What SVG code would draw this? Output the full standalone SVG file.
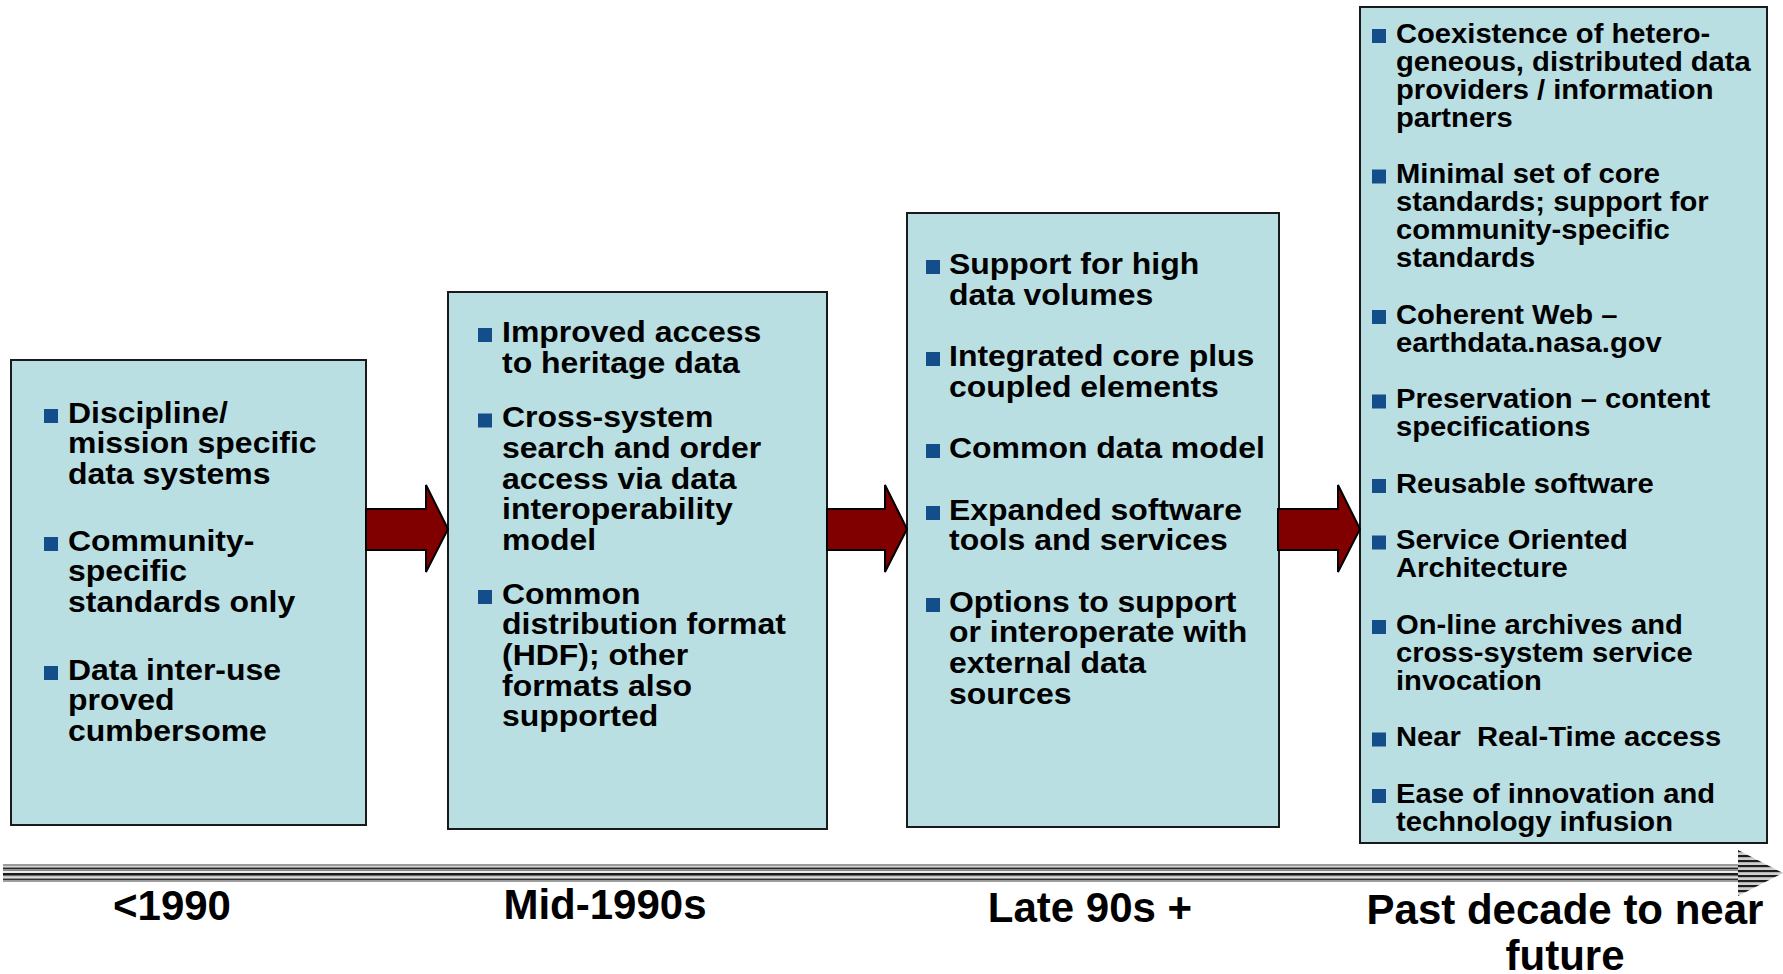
<svg xmlns="http://www.w3.org/2000/svg" width="1783" height="974" viewBox="0 0 1783 974">
<defs>
<style>
.box{fill:#BADFE3;stroke:#1a1a1a;stroke-width:2}
.t{font-family:"Liberation Sans",Arial,Helvetica,sans-serif;font-weight:bold;fill:#000}
.b1{font-size:30px}
.b4{font-size:27px}
.bul{fill:#134E8A}
.arr{fill:#800000;stroke:#000;stroke-width:2;stroke-linejoin:miter}
.lbl{font-family:"Liberation Sans",Arial,Helvetica,sans-serif;font-weight:bold;font-size:42px;text-anchor:middle;fill:#000}
</style>
<pattern id="hs" patternUnits="userSpaceOnUse" x="0" y="850" width="10" height="5">
<rect width="10" height="2.5" fill="#1e1e1e"/>
<rect y="2.5" width="10" height="2.5" fill="#cfcfcf"/>
</pattern>
</defs>
<rect width="1783" height="974" fill="#fff"/>

<g id="n1">
<rect class="box" x="11" y="360" width="355" height="465"/>
<rect class="bul" x="44" y="409" width="14" height="14"/>
<rect class="bul" x="44" y="537" width="14" height="14"/>
<rect class="bul" x="44" y="666" width="14" height="14"/>
<g transform="translate(68,0) scale(1.065,1)">
<text class="t b1"><tspan x="0" y="423">Discipline/</tspan><tspan x="0" y="453.5">mission specific</tspan><tspan x="0" y="484">data systems</tspan><tspan x="0" y="551">Community-</tspan><tspan x="0" y="581.5">specific</tspan><tspan x="0" y="612">standards only</tspan><tspan x="0" y="680">Data inter-use</tspan><tspan x="0" y="710.5">proved</tspan><tspan x="0" y="741">cumbersome</tspan></text>
</g>
</g>

<g id="n2">
<rect class="box" x="448" y="292" width="379" height="537"/>
<rect class="bul" x="478" y="328" width="14" height="14"/>
<rect class="bul" x="478" y="413.5" width="14" height="14"/>
<rect class="bul" x="478" y="590" width="14" height="14"/>
<g transform="translate(502,0) scale(1.065,1)">
<text class="t b1"><tspan x="0" y="342">Improved access</tspan><tspan x="0" y="373">to heritage data</tspan><tspan x="0" y="427.5">Cross-system</tspan><tspan x="0" y="458">search and order</tspan><tspan x="0" y="489">access via data</tspan><tspan x="0" y="519.5">interoperability</tspan><tspan x="0" y="550">model</tspan><tspan x="0" y="604">Common</tspan><tspan x="0" y="634.5">distribution format</tspan><tspan x="0" y="665">(HDF); other</tspan><tspan x="0" y="696">formats also</tspan><tspan x="0" y="726.5">supported</tspan></text>
</g>
</g>

<g id="n3">
<rect class="box" x="907" y="213" width="372" height="614"/>
<rect class="bul" x="926" y="260" width="14" height="14"/>
<rect class="bul" x="926" y="352" width="14" height="14"/>
<rect class="bul" x="926" y="444" width="14" height="14"/>
<rect class="bul" x="926" y="506" width="14" height="14"/>
<rect class="bul" x="926" y="598" width="14" height="14"/>
<g transform="translate(949,0) scale(1.065,1)">
<text class="t b1"><tspan x="0" y="274">Support for high</tspan><tspan x="0" y="305">data volumes</tspan><tspan x="0" y="366">Integrated core plus</tspan><tspan x="0" y="397">coupled elements</tspan><tspan x="0" y="458">Common data model</tspan><tspan x="0" y="520">Expanded software</tspan><tspan x="0" y="550">tools and services</tspan><tspan x="0" y="612">Options to support</tspan><tspan x="0" y="642.5">or interoperate with</tspan><tspan x="0" y="673">external data</tspan><tspan x="0" y="704">sources</tspan></text>
</g>
</g>

<g id="n4">
<rect class="box" x="1360" y="7" width="407" height="836"/>
<rect class="bul" x="1372" y="29" width="14" height="14"/>
<rect class="bul" x="1372" y="169.5" width="14" height="14"/>
<rect class="bul" x="1372" y="310" width="14" height="14"/>
<rect class="bul" x="1372" y="394.5" width="14" height="14"/>
<rect class="bul" x="1372" y="479" width="14" height="14"/>
<rect class="bul" x="1372" y="535.5" width="14" height="14"/>
<rect class="bul" x="1372" y="620" width="14" height="14"/>
<rect class="bul" x="1372" y="732.5" width="14" height="14"/>
<rect class="bul" x="1372" y="789" width="14" height="14"/>
<g transform="translate(1396,0) scale(1.08,1)">
<text class="t b4" xml:space="preserve"><tspan x="0" y="43">Coexistence of hetero-</tspan><tspan x="0" y="71">geneous, distributed data</tspan><tspan x="0" y="99">providers / information</tspan><tspan x="0" y="127">partners</tspan><tspan x="0" y="183.5">Minimal set of core</tspan><tspan x="0" y="211.5">standards; support for</tspan><tspan x="0" y="239.5">community-specific</tspan><tspan x="0" y="267.5">standards</tspan><tspan x="0" y="324">Coherent Web –</tspan><tspan x="0" y="352">earthdata.nasa.gov</tspan><tspan x="0" y="408.5">Preservation – content</tspan><tspan x="0" y="436.5">specifications</tspan><tspan x="0" y="493">Reusable software</tspan><tspan x="0" y="549.5">Service Oriented</tspan><tspan x="0" y="577.5">Architecture</tspan><tspan x="0" y="634">On-line archives and</tspan><tspan x="0" y="662">cross-system service</tspan><tspan x="0" y="690">invocation</tspan><tspan x="0" y="746.5">Near  Real-Time access</tspan><tspan x="0" y="803">Ease of innovation and</tspan><tspan x="0" y="831">technology infusion</tspan></text>
</g>
</g>

<g id="connectors">
<polygon class="arr" points="366,509 426,509 426,485 448,529 426,572 426,550 366,550"/>
<polygon class="arr" points="827,509 885,509 885,485 907,529 885,572 885,550 827,550"/>
<polygon class="arr" points="1278,509 1338,509 1338,485 1360,529 1338,572 1338,550 1278,550"/>
</g>

<g id="timeline">
<rect x="3" y="864" width="1735" height="2" fill="#9a9a9a"/>
<rect x="3" y="866" width="1735" height="1.5" fill="#d4d4d4"/>
<rect x="3" y="867.5" width="1735" height="2" fill="#2a2a2a"/>
<rect x="3" y="869.5" width="1735" height="1.5" fill="#8a8a8a"/>
<rect x="3" y="871" width="1735" height="2" fill="#ececec"/>
<rect x="3" y="873" width="1735" height="2" fill="#1a1a1a"/>
<rect x="3" y="875" width="1735" height="1.5" fill="#6a6a6a"/>
<rect x="3" y="876.5" width="1735" height="2" fill="#dadada"/>
<rect x="3" y="878.5" width="1735" height="2" fill="#333"/>
<rect x="3" y="880.5" width="1735" height="1.5" fill="#a0a0a0"/>
<polygon points="1738,850 1783,873 1738,896" fill="url(#hs)"/>
</g>

<g id="labels">
<text class="lbl" x="172" y="920">&lt;1990</text>
<text class="lbl" x="605" y="919">Mid-1990s</text>
<text class="lbl" x="1090" y="922">Late 90s +</text>
<text class="lbl" x="1565" y="924">Past decade to near</text>
<text class="lbl" x="1565" y="970">future</text>
</g>
</svg>
